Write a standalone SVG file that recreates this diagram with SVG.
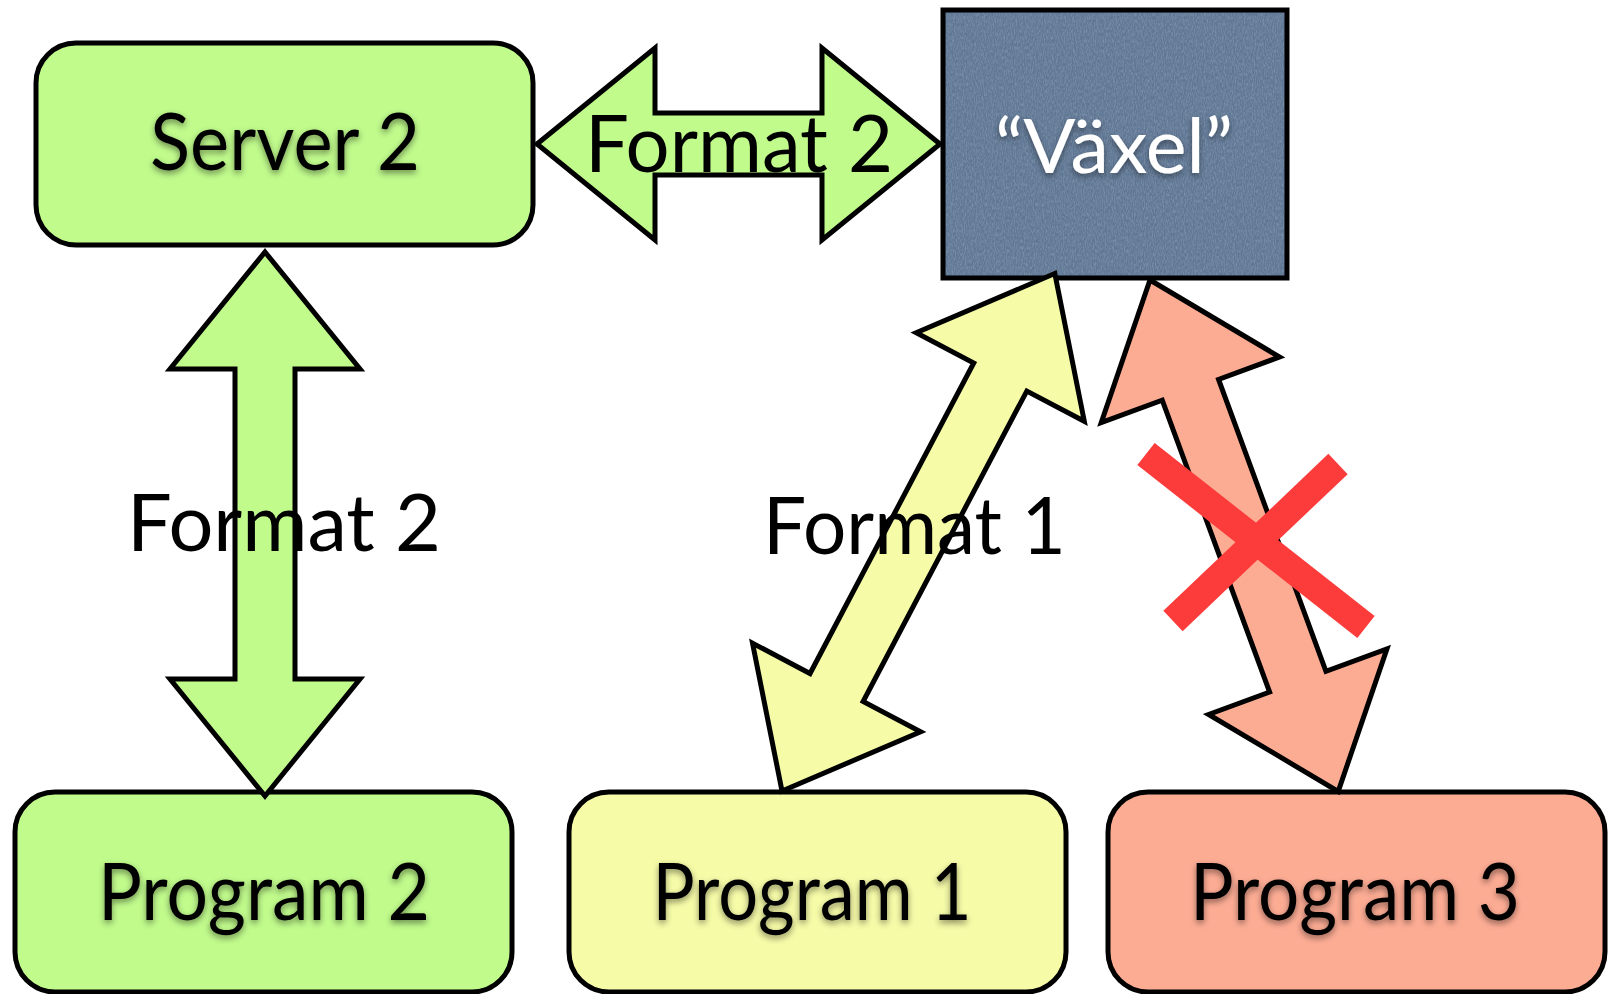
<svg xmlns="http://www.w3.org/2000/svg" width="1614" height="994" viewBox="0 0 1614 994">
  <defs>
    <filter id="shadow" x="-10%" y="-20%" width="120%" height="150%">
      <feDropShadow dx="0" dy="3" stdDeviation="3" flood-color="#000" flood-opacity="0.45"/>
    </filter>
    <filter id="tex" x="0" y="0" width="100%" height="100%">
      <feTurbulence type="fractalNoise" baseFrequency="0.9 0.3" numOctaves="3" seed="4" result="n"/>
      <feColorMatrix in="n" type="matrix" values="0 0 0 0 1  0 0 0 0 1  0 0 0 0 1  0.35 0 0 0 -0.12" result="c"/>
      <feComposite in="c" in2="SourceAlpha" operator="in"/>
    </filter>
    <style>
      .box { stroke: #000; stroke-width: 5; }
      .green { fill: #c0fb8c; }
      .yellow { fill: #f6fba8; }
      .salmon { fill: #fdac94; }
      .arrow { stroke: #000; stroke-width: 5; stroke-linejoin: miter; }
      .lbl { font-family: "Lato", "Open Sans", "Liberation Sans", sans-serif; font-size: 80px; fill: #000; }
      .node { font-family: "Lato", "Open Sans", "Liberation Sans", sans-serif; font-size: 80px; fill: #000; text-anchor: middle; filter: url(#shadow); }
      .cross { stroke: #fc3b3b; stroke-width: 28; stroke-linecap: butt; }
    </style>
  </defs>

  <g id="node-server2">
    <rect class="box green" x="36" y="43" width="497" height="202" rx="40"/>
    <text class="node" x="285" y="170" textLength="270" lengthAdjust="spacingAndGlyphs">Server 2</text>
  </g>

  <g id="node-vaxel">
    <rect x="943" y="10" width="344" height="268" fill="#5f7795" stroke="#000" stroke-width="5"/>
    <rect x="946" y="13" width="338" height="262" fill="#fff" filter="url(#tex)"/>
    <text class="node" x="1114" y="173" textLength="238" lengthAdjust="spacingAndGlyphs" style="fill:#fff;font-size:76px">“Växel”</text>
  </g>

  <g id="node-program2">
    <rect class="box green" x="15" y="792" width="497" height="200" rx="40"/>
    <text class="node" x="264" y="920" textLength="332" lengthAdjust="spacingAndGlyphs">Program 2</text>
  </g>

  <g id="node-program1">
    <rect class="box yellow" x="569" y="792" width="497" height="200" rx="40"/>
    <text class="node" x="812" y="920" textLength="319" lengthAdjust="spacingAndGlyphs">Program 1</text>
  </g>

  <g id="node-program3">
    <rect class="box salmon" x="1108" y="792" width="497" height="200" rx="40"/>
    <text class="node" x="1355" y="920" textLength="330" lengthAdjust="spacingAndGlyphs">Program 3</text>
  </g>

  <g id="connectors">
    <polygon class="arrow green" transform="translate(537,144)" points="0,0 118,-96 118,-31 285,-31 285,-96 403,0 285,96 285,31 118,31 118,96"/>
    <polygon class="arrow green" transform="translate(265,252) rotate(90)" points="0,0 117,-95 117,-30 427,-30 427,-95 544,0 427,95 427,30 117,30 117,95"/>
    <polygon class="arrow yellow" transform="translate(782,791) rotate(-62.2)" points="0,0 117,-95 117,-30 468,-30 468,-95 585,0 468,95 468,30 117,30 117,95"/>
    <polygon class="arrow salmon" transform="translate(1150,280) rotate(69.8)" points="0,0 117,-95 117,-30 428,-30 428,-95 545,0 428,95 428,30 117,30 117,95"/>
    <text class="lbl" x="585" y="172" textLength="308" lengthAdjust="spacingAndGlyphs">Format 2</text>
    <text class="lbl" x="127" y="551" textLength="314" lengthAdjust="spacingAndGlyphs">Format 2</text>
    <text class="lbl" x="763" y="554" textLength="303" lengthAdjust="spacingAndGlyphs">Format 1</text>
    <line class="cross" x1="1146" y1="454" x2="1366" y2="627"/>
    <line class="cross" x1="1338" y1="464" x2="1173" y2="621"/>
  </g>
</svg>
